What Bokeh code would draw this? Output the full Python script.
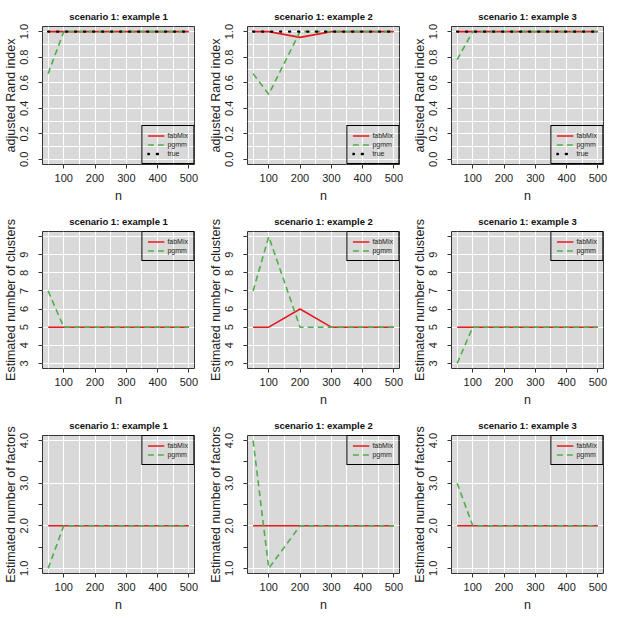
from bokeh.plotting import figure
from bokeh.layouts import gridplot
from bokeh.models import FixedTicker, Range1d, Legend, LegendItem
from bokeh.embed import file_html
from bokeh.resources import INLINE

# ---------------- data ----------------
n = [50, 100, 200, 300, 400, 500]
titles = ["scenario 1: example 1", "scenario 1: example 2", "scenario 1: example 3"]
x_ticks = [100, 200, 300, 400, 500]
x_grid = [50, 100, 150, 200, 250, 300, 350, 400, 450, 500]

ari_fabmix = [[1, 1, 1, 1, 1, 1], [1, 1, 0.955, 1, 1, 1], [1, 1, 1, 1, 1, 1]]
ari_pgmm = [[0.67, 1, 1, 1, 1, 1], [0.67, 0.51, 1, 1, 1, 1], [0.78, 1, 1, 1, 1, 1]]
ari_true = [1, 1, 1, 1, 1, 1]

clusters_fabmix = [[5, 5, 5, 5, 5, 5], [5, 5, 6, 5, 5, 5], [5, 5, 5, 5, 5, 5]]
clusters_pgmm = [[7, 5, 5, 5, 5, 5], [7, 10, 5, 5, 5, 5], [3, 5, 5, 5, 5, 5]]

factors_fabmix = [[2, 2, 2, 2, 2, 2], [2, 2, 2, 2, 2, 2], [2, 2, 2, 2, 2, 2]]
factors_pgmm = [[1, 2, 2, 2, 2, 2], [4, 1, 2, 2, 2, 2], [3, 2, 2, 2, 2, 2]]

ari_ticks = [0.0, 0.2, 0.4, 0.6, 0.8, 1.0]
ari_labels = {0.0: "0.0", 0.2: "0.2", 0.4: "0.4", 0.6: "0.6", 0.8: "0.8", 1.0: "1.0"}
ari_grid = [0.0, 0.1, 0.2, 0.3, 0.4, 0.5, 0.6, 0.7, 0.8, 0.9, 1.0]
clusters_ticks = [3, 4, 5, 6, 7, 8, 9, 10]
clusters_labels = {10: ""}
factors_ticks = [1.0, 1.5, 2.0, 2.5, 3.0, 3.5, 4.0]
factors_labels = {1.0: "1.0", 1.5: "", 2.0: "2.0", 2.5: "", 3.0: "3.0", 3.5: "", 4.0: "4.0"}
factors_grid = [1, 2, 3, 4]

rows = [
    dict(ylabel="adjusted Rand index", yr=(0, 1), ticks=ari_ticks, over=ari_labels, grid=ari_grid,
         fab=ari_fabmix, pg=ari_pgmm, true=ari_true, loc="bottom_right"),
    dict(ylabel="Estimated number of clusters", yr=(3, 10), ticks=clusters_ticks, over=clusters_labels,
         grid=clusters_ticks, fab=clusters_fabmix, pg=clusters_pgmm, true=None, loc="top_right"),
    dict(ylabel="Estimated number of factors", yr=(1, 4), ticks=factors_ticks, over=factors_labels,
         grid=factors_grid, fab=factors_fabmix, pg=factors_pgmm, true=None, loc="top_right"),
]

RED = "#E41A1C"
GREEN = "#4DAF4A"
FONT = "Liberation Sans"
widths = [205, 204, 205]
heights = [205, 204, 205]


def ext(lo, hi):
    d = (hi - lo) * 0.04
    return lo - d, hi + d


grid = []
for ri, cfg in enumerate(rows):
    prow = []
    for ci in range(3):
        w, h = widths[ci], heights[ri]
        xlo, xhi = ext(min(n), max(n))
        ylo, yhi = ext(*cfg["yr"])
        p = figure(width=w, height=h, output_backend="svg", toolbar_location=None,
                   x_range=Range1d(xlo, xhi), y_range=Range1d(ylo, yhi),
                   min_border_left=38, min_border_right=w - 38 - 156,
                   min_border_top=26, min_border_bottom=h - 26 - (143 if h == 205 else 142),
                   background_fill_color="#D9D9D9", border_fill_color="white",
                   outline_line_color="#333333", outline_line_width=1, outline_line_alpha=1)
        p.title.text = titles[ci]
        p.title.align = "center"
        p.title.text_font = FONT
        p.title.text_font_style = "bold"
        p.title.text_font_size = "9.5px"
        p.title.text_color = "#111111"
        p.title.standoff = 10

        p.xaxis.ticker = FixedTicker(ticks=x_ticks)
        p.xgrid.ticker = FixedTicker(ticks=x_grid)
        p.yaxis.ticker = FixedTicker(ticks=cfg["ticks"])
        p.ygrid.ticker = FixedTicker(ticks=cfg["grid"])
        p.yaxis.major_label_overrides = cfg["over"]
        for g in (p.xgrid, p.ygrid):
            g.grid_line_color = "white"
            g.grid_line_width = 1
        for ax in (p.xaxis, p.yaxis):
            ax.axis_line_color = None
            ax.major_tick_out = 4
            ax.major_tick_in = 0
            ax.minor_tick_out = 0
            ax.minor_tick_in = 0
            ax.major_tick_line_color = "#333333"
            ax.major_label_text_font = FONT
            ax.major_label_text_font_size = "11px"
            ax.major_label_text_color = "#222222"
            ax.axis_label_text_font = FONT
            ax.axis_label_text_font_size = "12.5px"
            ax.axis_label_text_font_style = "normal"
            ax.axis_label_text_color = "#222222"
        p.xaxis.axis_label = "n"
        p.xaxis.major_label_standoff = 5
        p.xaxis.axis_label_standoff = 4
        p.yaxis.axis_label = cfg["ylabel"]
        p.yaxis.major_label_orientation = "parallel"
        p.yaxis.major_label_text_line_height = 1.0
        p.yaxis.axis_label_text_line_height = 1.0
        p.yaxis.major_label_standoff = 10
        p.yaxis.axis_label_standoff = 0

        r1 = p.line(n, cfg["fab"][ci], line_color=RED, line_width=1.6)
        r2 = p.line(n, cfg["pg"][ci], line_color=GREEN, line_width=1.6, line_dash="6 4")
        items = [LegendItem(label="fabMix", renderers=[r1]), LegendItem(label="pgmm", renderers=[r2])]
        if cfg["true"] is not None:
            r3 = p.line(n, cfg["true"], line_color="black", line_width=2.4, line_dash="1 8",
                        line_cap="round")
            items.append(LegendItem(label="true", renderers=[r3]))
        leg = Legend(items=items, location=cfg["loc"], margin=0, padding=5, spacing=0,
                     label_height=9, glyph_height=9, glyph_width=17, label_standoff=3,
                     label_text_font=FONT, label_text_font_size="7px", label_text_color="#222222",
                     border_line_color="black", border_line_width=1, border_line_alpha=1,
                     background_fill_alpha=0)
        p.add_layout(leg)
        prow.append(p)
    grid.append(prow)

layout = gridplot(grid, toolbar_location=None)
open("out.html", "w").write(file_html(layout, INLINE))
